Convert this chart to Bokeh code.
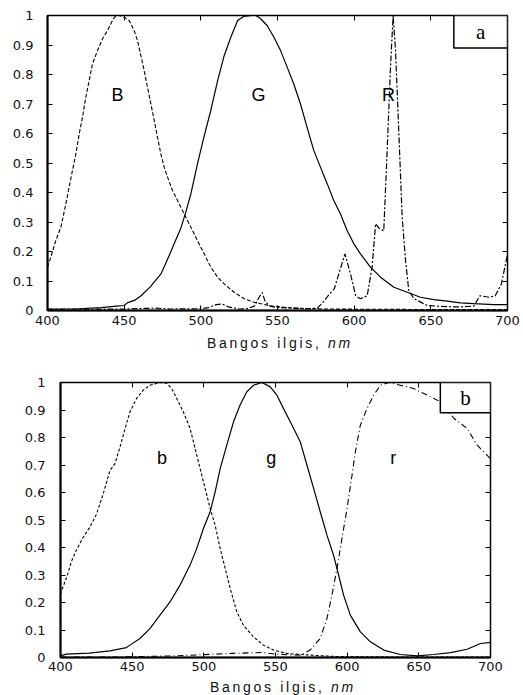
from bokeh.plotting import figure
from bokeh.models import Range1d, LinearAxis, FixedTicker, Label, BoxAnnotation, Div
from bokeh.embed import file_html
from bokeh.resources import INLINE

# ---------------- data: panel (a) ----------------
a_B_nm = [400, 402.2, 405.4, 408.7, 412, 414.1, 416.3, 418.5, 420.7, 422.8, 425, 427.2, 429.3, 432.6,
          435.9, 439.1, 442.4, 444.6, 446.7, 450, 453.3, 456.5, 458.7, 460.9, 463, 465.2, 467.4, 469.6,
          471.7, 473.9, 476.1, 478.3, 481.5, 484.8, 488, 491.3, 494.6, 497.8, 502.2, 506.5, 510.9, 515.2,
          521.7, 528.3, 534.8, 545, 560, 580, 620, 660, 700]
a_B = [0.147, 0.181, 0.237, 0.282, 0.362, 0.418, 0.475, 0.531, 0.599, 0.655, 0.723, 0.780, 0.836, 0.881,
       0.921, 0.949, 0.983, 1.0, 1.0, 0.994, 0.983, 0.949, 0.915, 0.864, 0.814, 0.757, 0.701, 0.644,
       0.588, 0.531, 0.486, 0.452, 0.407, 0.373, 0.339, 0.305, 0.271, 0.237, 0.192, 0.147, 0.113, 0.090,
       0.062, 0.040, 0.028, 0.016, 0.008, 0.005, 0.004, 0.003, 0.003]

a_G_nm = [400, 420, 435, 445, 450, 452, 457, 461, 467, 474, 478, 482.6, 487, 490, 493.5, 497.8, 502,
          506.5, 511, 515, 519.6, 524, 528, 533, 536, 539, 543.2, 547.6, 552, 556.3, 560.6, 565, 569.3,
          573.7, 578, 582.4, 586.7, 591, 595.4, 599.8, 604.1, 610.6, 617.2, 625.9, 634.6, 643.2, 652,
          660.6, 669.3, 678, 691, 700]
a_G = [0.005, 0.006, 0.010, 0.015, 0.017, 0.026, 0.035, 0.050, 0.080, 0.124, 0.170, 0.226, 0.280, 0.330,
       0.395, 0.497, 0.588, 0.678, 0.780, 0.860, 0.927, 0.983, 0.997, 1.0, 1.0, 0.989, 0.966, 0.927,
       0.881, 0.825, 0.768, 0.700, 0.621, 0.542, 0.486, 0.430, 0.373, 0.328, 0.271, 0.226, 0.192, 0.147,
       0.113, 0.079, 0.062, 0.045, 0.037, 0.032, 0.026, 0.023, 0.020, 0.020]

a_R_nm = [400, 450, 470, 480, 500, 505, 510, 514, 518, 525, 530, 535, 538, 540, 542, 545, 550, 560, 570,
          576, 580, 583, 587, 590, 594, 597.6, 601, 604, 608.5, 611.7, 614, 616, 619.3, 621.5, 623.7,
          625.4, 627, 629, 631.3, 633.5, 635.6, 639, 647.6, 660, 670, 678, 682, 688, 692, 696, 700]
a_R = [0.004, 0.005, 0.008, 0.005, 0.006, 0.010, 0.020, 0.022, 0.012, 0.005, 0.006, 0.015, 0.045, 0.061,
       0.030, 0.015, 0.010, 0.008, 0.006, 0.008, 0.030, 0.050, 0.073, 0.124, 0.192, 0.124, 0.050, 0.040,
       0.050, 0.147, 0.294, 0.280, 0.270, 0.540, 0.825, 1.0, 0.880, 0.620, 0.316, 0.170, 0.068, 0.040,
       0.017, 0.013, 0.012, 0.015, 0.050, 0.045, 0.050, 0.090, 0.190]

# ---------------- data: panel (b) ----------------
b_b_nm = [400, 402, 404.2, 407.7, 411, 415.8, 420.5, 425, 429.8, 434.5, 438, 441.5, 446, 448.5, 453.1,
          457.7, 462.4, 469.4, 474.1, 477.6, 481.1, 485.7, 490.4, 493.9, 497.4, 500.9, 504.4, 507.9,
          511.4, 514.9, 518.4, 523, 527.6, 534.6, 541.6, 548.6, 557.9, 569.6, 590, 630, 700]
b_b = [0.23, 0.26, 0.29, 0.35, 0.39, 0.437, 0.474, 0.52, 0.595, 0.68, 0.705, 0.765, 0.85, 0.893, 0.942,
       0.972, 0.99, 1.0, 0.997, 0.978, 0.942, 0.893, 0.833, 0.76, 0.687, 0.615, 0.542, 0.481, 0.396,
       0.324, 0.251, 0.166, 0.117, 0.075, 0.045, 0.027, 0.015, 0.01, 0.004, 0.002, 0.002]

b_g_nm = [400, 404, 420, 434.5, 446, 448.5, 455.4, 462.4, 469.4, 476.4, 483.4, 490.4, 495, 499.7, 504.4,
          507.9, 511.4, 516, 520.7, 525.3, 530, 534.6, 540.5, 546.3, 551, 555.6, 560.3, 565, 567.3,
          571.9, 576.6, 581.2, 585.9, 590.5, 594, 597.5, 602.2, 609.2, 616.2, 625.5, 637.1, 648.8, 660.4,
          672.1, 683.7, 693, 700]
b_g = [0.006, 0.012, 0.016, 0.024, 0.036, 0.045, 0.069, 0.105, 0.154, 0.202, 0.263, 0.336, 0.396, 0.469,
       0.53, 0.602, 0.687, 0.772, 0.857, 0.918, 0.966, 0.99, 1.0, 0.984, 0.954, 0.905, 0.857, 0.808,
       0.784, 0.70, 0.615, 0.53, 0.445, 0.372, 0.30, 0.227, 0.154, 0.093, 0.057, 0.027, 0.011, 0.006,
       0.011, 0.018, 0.03, 0.051, 0.055]

b_r_nm = [400, 440, 480, 507, 520, 540, 551, 567.3, 574.2, 581.2, 585.9, 589.4, 592.9, 596.4, 599.9,
          603.4, 605.7, 609.2, 613.8, 618.5, 623.2, 629, 637.1, 646.4, 655.8, 665.1, 674.4, 683.7, 690.7, 700]
b_r = [0.002, 0.002, 0.006, 0.012, 0.015, 0.018, 0.012, 0.008, 0.027, 0.069, 0.142, 0.227, 0.324, 0.433,
       0.542, 0.663, 0.748, 0.845, 0.905, 0.954, 0.99, 1.0, 0.99, 0.978, 0.954, 0.93, 0.87, 0.833, 0.772, 0.723]

# ---------------- ticks and texts ----------------
x_ticks = [400, 450, 500, 550, 600, 650, 700]
y_ticks = [0, 0.1, 0.2, 0.3, 0.4, 0.5, 0.6, 0.7, 0.8, 0.9, 1]
y_tick_labels = ["0", "0.1", "0.2", "0.3", "0.4", "0.5", "0.6", "0.7", "0.8", "0.9", "1"]
names_a = ["B", "G", "R"]
names_b = ["b", "g", "r"]
panel_tags = ["a", "b"]
axis_title = "Bangos ilgis,"
axis_unit = "nm"

TICK_FONT = "DejaVu Sans"


def style_axis(ax, ticks, show_labels, standoff, line_w):
    ax.ticker = FixedTicker(ticks=ticks)
    ax.major_tick_in = 5
    ax.major_tick_out = 0
    ax.minor_tick_line_color = None
    ax.major_tick_line_color = "black"
    ax.major_tick_line_width = 1
    if line_w:
        ax.axis_line_color = "black"
        ax.axis_line_width = line_w
    else:
        ax.axis_line_color = None
    if show_labels:
        ax.major_label_standoff = standoff
        ax.major_label_text_font = TICK_FONT
        ax.major_label_text_font_size = "13px"
        ax.major_label_text_color = "#111111"
    else:
        ax.major_label_standoff = 0
        ax.major_label_overrides = {t: "" for t in ticks}
        ax.major_label_text_font_size = "0px"


def make_panel(curves, names, name_xs, name_y, tag, height, mb, x_standoff, y_standoff):
    p = figure(width=523, height=height, x_range=Range1d(400, 700), y_range=Range1d(0, 1),
               output_backend="svg", toolbar_location=None,
               min_border_left=mb[0], min_border_right=mb[1], min_border_top=mb[2], min_border_bottom=mb[3])
    p.xgrid.visible = False
    p.ygrid.visible = False
    p.outline_line_color = "black"
    p.outline_line_width = 1.5
    p.background_fill_color = "white"
    p.border_fill_color = "white"

    for xs, ys, dash, lw in curves:
        p.line(xs, ys, line_color="black", line_width=lw, line_dash=dash)

    style_axis(p.xaxis[0], x_ticks, True, x_standoff, 2)
    style_axis(p.yaxis[0], y_ticks, True, y_standoff, 2)
    p.yaxis[0].major_label_overrides = dict(zip(y_ticks, y_tick_labels))

    top = LinearAxis()
    style_axis(top, x_ticks, False, 0, None)
    p.add_layout(top, "above")
    right = LinearAxis()
    style_axis(right, y_ticks, False, 0, None)
    p.add_layout(right, "right")

    for nm, nx in zip(names, name_xs):
        p.add_layout(Label(x=nx, y=name_y, text=nm, text_align="center", text_baseline="middle",
                           text_font="Liberation Sans", text_font_size="18px", text_color="black"))

    p.add_layout(BoxAnnotation(left=665, right=700, bottom=0.89, top=1.0, fill_color="white",
                               fill_alpha=1.0, line_color="black", line_width=1.5, line_alpha=1.0))
    p.add_layout(Label(x=682.5, y=0.945, text=tag, text_align="center", text_baseline="middle",
                       text_font="Liberation Serif", text_font_size="21px", text_color="black"))
    return p


def axis_div(pad_left, pad_top, height):
    html = ('<div style="padding:%dpx 0 0 %dpx; font-family:\'Liberation Sans\', Arial, sans-serif; '
            'font-size:14px; line-height:16px; letter-spacing:2.7px; color:#111111; white-space:nowrap;">'
            '%s <i>%s</i></div>') % (pad_top, pad_left, axis_title, axis_unit)
    return Div(text=html, width=523, height=height, margin=0)


pa = make_panel(
    [(a_B_nm, a_B, "4 2", 1.1), (a_G_nm, a_G, "solid", 1.2), (a_R_nm, a_R, "6 2 2 2", 1.2)],
    names_a, [445.7, 537.6, 622.4], 0.729, panel_tags[0], 332, (47, 16, 15, 22), 5, 14)
da = axis_div(207, 3, 22)

pb = make_panel(
    [(b_b_nm, b_b, "3 2", 1.1), (b_g_nm, b_g, "solid", 1.2), (b_r_nm, b_r, "6 3 1 3", 1.1)],
    names_b, [470.8, 547.0, 632.2], 0.725, panel_tags[1], 323, (60, 33, 28, 20), 4, 15)
db = axis_div(210, 2, 18)

open("out.html", "w").write(file_html([pa, da, pb, db], INLINE))
